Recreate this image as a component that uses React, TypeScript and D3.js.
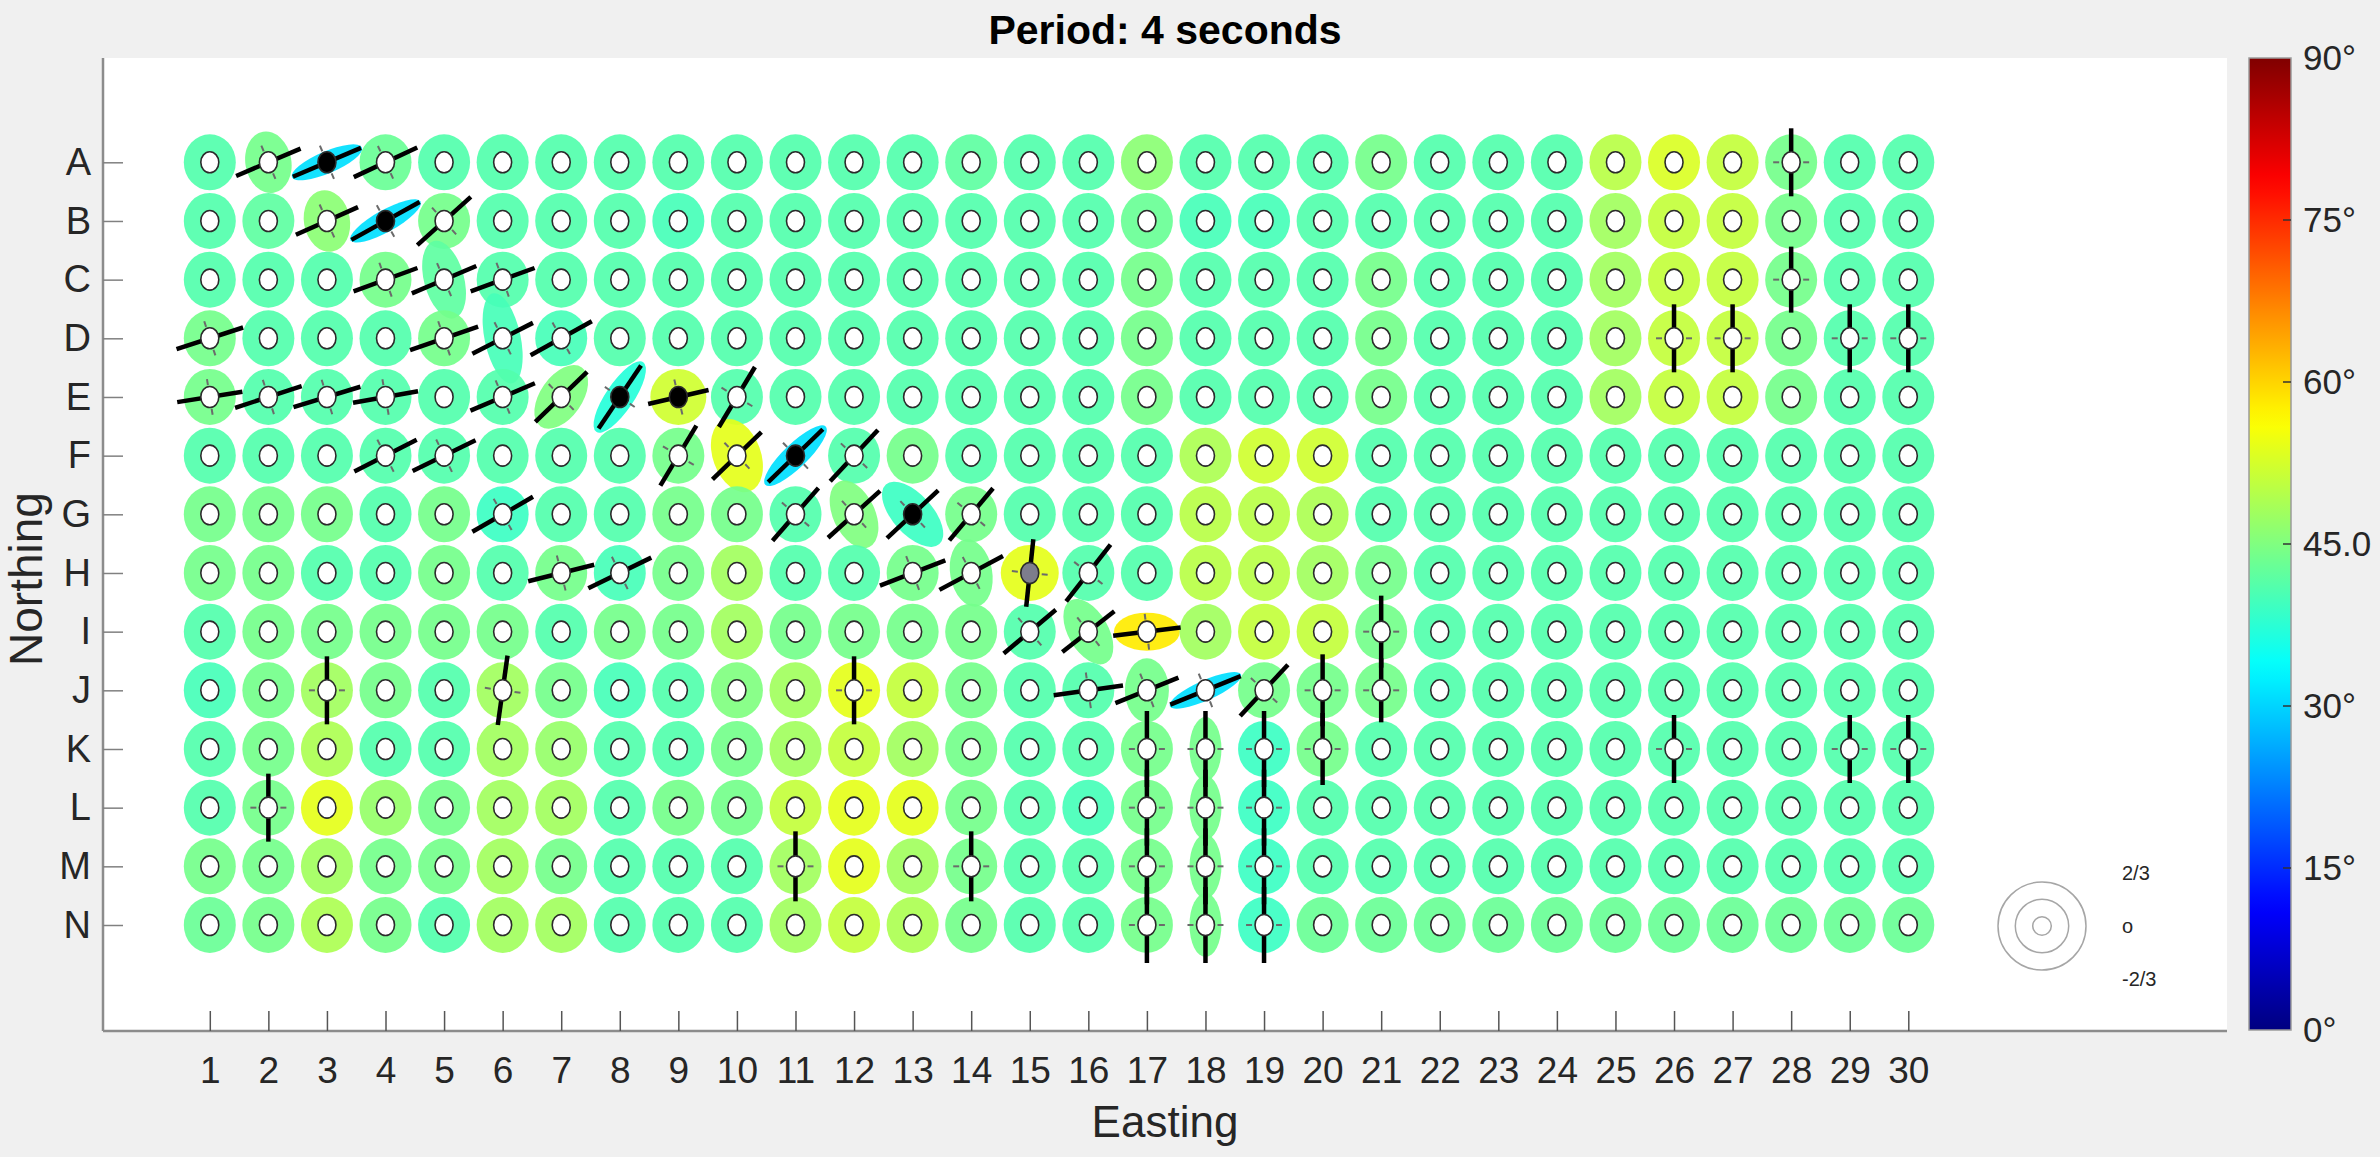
import React, { useEffect, useRef } from "react";
import * as d3 from "d3";

// grid labels
const rowNames = ["A", "B", "C", "D", "E", "F", "G", "H", "I", "J", "K", "L", "M", "N"];
const eastings = [1, 2, 3, 4, 5, 6, 7, 8, 9, 10, 11, 12, 13, 14, 15, 16, 17, 18, 19, 20, 21, 22, 23, 24, 25, 26, 27, 28, 29, 30];

// angle (deg) per station, one row per northing letter
const angleRows = [
  [41, 44, 31, 43, 41, 41, 41, 41, 41, 41, 41, 41, 41, 42, 41, 41, 46, 41, 41, 41, 44, 41, 41, 41, 50, 53, 51, 44, 41, 41],
  [41, 42, 46, 31, 44, 41, 41, 41, 40, 41, 41, 41, 41, 41, 41, 41, 43, 40, 40, 41, 41, 41, 41, 41, 48, 51, 51, 44, 41, 41],
  [41, 41, 41, 44, 42, 41, 41, 41, 41, 41, 41, 41, 41, 41, 41, 41, 44, 41, 41, 41, 44, 41, 41, 41, 48, 51, 51, 44, 41, 41],
  [44, 41, 41, 41, 44, 40, 40, 41, 41, 41, 41, 41, 41, 41, 41, 41, 44, 41, 41, 41, 44, 41, 41, 41, 48, 51, 51, 44, 41, 41],
  [44, 41, 41, 41, 41, 41, 45, 37, 52, 41, 41, 41, 41, 41, 41, 41, 44, 41, 41, 41, 44, 41, 41, 41, 48, 51, 51, 44, 41, 41],
  [41, 41, 41, 41, 41, 41, 41, 41, 44, 54, 31, 41, 44, 41, 41, 41, 41, 49, 52, 52, 41, 41, 41, 41, 41, 41, 41, 41, 41, 41],
  [44, 44, 44, 41, 44, 39, 41, 41, 44, 44, 41, 45, 39, 44, 41, 41, 41, 50, 50, 49, 41, 41, 41, 41, 41, 41, 41, 41, 41, 41],
  [44, 44, 41, 41, 44, 41, 44, 40, 44, 48, 41, 41, 44, 44, 54, 41, 41, 50, 50, 48, 44, 41, 41, 41, 41, 41, 41, 41, 41, 41],
  [41, 44, 44, 44, 44, 44, 41, 44, 44, 48, 44, 44, 44, 44, 41, 44, 58, 48, 51, 51, 44, 41, 41, 41, 41, 41, 41, 41, 41, 41],
  [40, 44, 48, 44, 41, 48, 44, 40, 41, 45, 48, 54, 51, 44, 41, 41, 44, 31, 44, 44, 44, 41, 41, 41, 41, 41, 41, 41, 41, 41],
  [41, 44, 49, 41, 41, 48, 47, 41, 41, 44, 48, 51, 48, 44, 41, 41, 44, 44, 39, 44, 41, 41, 41, 41, 41, 41, 41, 41, 41, 41],
  [41, 44, 54, 47, 44, 48, 48, 41, 44, 44, 51, 54, 54, 44, 41, 40, 44, 44, 39, 41, 41, 41, 41, 41, 41, 41, 41, 41, 41, 41],
  [44, 44, 48, 44, 44, 48, 44, 41, 41, 41, 48, 54, 48, 44, 41, 41, 44, 44, 39, 41, 41, 41, 41, 41, 41, 41, 41, 41, 41, 41],
  [43, 44, 49, 44, 41, 48, 48, 41, 41, 41, 48, 51, 49, 44, 41, 41, 44, 44, 39, 43, 43, 43, 43, 43, 43, 43, 43, 43, 43, 43],
];

// fast-axis bars: azimuth clockwise from north, half length in px of the picture
const axisLines = [
  { n: "A", e: 2, az: 67, half: 35 }, { n: "A", e: 3, az: 67, half: 37 }, { n: "A", e: 4, az: 65, half: 35 },
  { n: "A", e: 28, az: 0, half: 34 },
  { n: "B", e: 3, az: 66, half: 34 }, { n: "B", e: 4, az: 61, half: 39 }, { n: "B", e: 5, az: 48, half: 36 },
  { n: "C", e: 4, az: 70, half: 34 }, { n: "C", e: 5, az: 67, half: 35 }, { n: "C", e: 6, az: 70, half: 34 },
  { n: "C", e: 28, az: 0, half: 33 },
  { n: "D", e: 1, az: 72, half: 35 }, { n: "D", e: 5, az: 71, half: 36 }, { n: "D", e: 6, az: 63, half: 34 },
  { n: "D", e: 7, az: 61, half: 35 }, { n: "D", e: 26, az: 0, half: 34 }, { n: "D", e: 27, az: 0, half: 34 },
  { n: "D", e: 29, az: 0, half: 34 }, { n: "D", e: 30, az: 0, half: 34 },
  { n: "E", e: 1, az: 81, half: 33 }, { n: "E", e: 2, az: 72, half: 35 }, { n: "E", e: 3, az: 73, half: 35 },
  { n: "E", e: 4, az: 80, half: 33 }, { n: "E", e: 6, az: 67, half: 35 }, { n: "E", e: 7, az: 46, half: 36 },
  { n: "E", e: 8, az: 34, half: 38 }, { n: "E", e: 9, az: 77, half: 31 }, { n: "E", e: 10, az: 31, half: 35 },
  { n: "F", e: 4, az: 63, half: 35 }, { n: "F", e: 5, az: 64, half: 35 }, { n: "F", e: 9, az: 31, half: 35 },
  { n: "F", e: 10, az: 46, half: 34 }, { n: "F", e: 11, az: 46, half: 38 }, { n: "F", e: 12, az: 43, half: 35 },
  { n: "G", e: 6, az: 60, half: 35 }, { n: "G", e: 11, az: 41, half: 35 }, { n: "G", e: 12, az: 48, half: 35 },
  { n: "G", e: 13, az: 47, half: 35 }, { n: "G", e: 14, az: 40, half: 34 },
  { n: "H", e: 7, az: 76, half: 34 }, { n: "H", e: 8, az: 64, half: 35 }, { n: "H", e: 13, az: 69, half: 35 },
  { n: "H", e: 14, az: 62, half: 36 }, { n: "H", e: 15, az: 6, half: 34 }, { n: "H", e: 16, az: 38, half: 36 },
  { n: "I", e: 15, az: 50, half: 34 }, { n: "I", e: 16, az: 52, half: 33 }, { n: "I", e: 17, az: 83, half: 34 },
  { n: "I", e: 21, az: 0, half: 36 },
  { n: "J", e: 3, az: 0, half: 34 }, { n: "J", e: 6, az: 8, half: 35 }, { n: "J", e: 12, az: 0, half: 34 },
  { n: "J", e: 16, az: 82, half: 35 }, { n: "J", e: 17, az: 68, half: 34 }, { n: "J", e: 18, az: 68, half: 38 },
  { n: "J", e: 19, az: 43, half: 35 }, { n: "J", e: 20, az: 0, half: 36 }, { n: "J", e: 21, az: 0, half: 32 },
  { n: "K", e: 17, az: 0, half: 38 }, { n: "K", e: 18, az: 0, half: 38 }, { n: "K", e: 19, az: 0, half: 38 },
  { n: "K", e: 20, az: 0, half: 36 }, { n: "K", e: 26, az: 0, half: 34 }, { n: "K", e: 29, az: 0, half: 34 },
  { n: "K", e: 30, az: 0, half: 34 },
  { n: "L", e: 2, az: 0, half: 34 }, { n: "L", e: 17, az: 0, half: 38 }, { n: "L", e: 18, az: 0, half: 38 },
  { n: "L", e: 19, az: 0, half: 38 },
  { n: "M", e: 11, az: 0, half: 35 }, { n: "M", e: 14, az: 0, half: 35 }, { n: "M", e: 17, az: 0, half: 38 },
  { n: "M", e: 18, az: 0, half: 38 }, { n: "M", e: 19, az: 0, half: 38 },
  { n: "N", e: 17, az: 0, half: 38 }, { n: "N", e: 18, az: 0, half: 38 }, { n: "N", e: 19, az: 0, half: 38 },
];

// stations whose centre dot is filled
const filledCentres = [
  { n: "A", e: 3, fill: "#000" }, { n: "B", e: 4, fill: "#000" }, { n: "E", e: 8, fill: "#000" },
  { n: "E", e: 9, fill: "#000" }, { n: "F", e: 11, fill: "#000" }, { n: "G", e: 13, fill: "#000" },
  { n: "H", e: 15, fill: "#7d7d8c" },
];

// stations whose ellipse is not the default round one
const ellipseShapes = [
  { n: "A", e: 2, rx: 23, ry: 31, rot: -10 }, { n: "A", e: 3, rx: 11, ry: 38, rot: 67 },
  { n: "B", e: 3, rx: 23, ry: 31, rot: -10 }, { n: "B", e: 4, rx: 11, ry: 40, rot: 61 },
  { n: "C", e: 5, rx: 20, ry: 40, rot: -15 }, { n: "D", e: 6, rx: 18, ry: 46, rot: -12 },
  { n: "E", e: 7, rx: 21, ry: 36, rot: 35 }, { n: "E", e: 8, rx: 14, ry: 42, rot: 34 },
  { n: "E", e: 9, rx: 28, ry: 28, rot: 0 }, { n: "F", e: 10, rx: 24, ry: 38, rot: -20 },
  { n: "F", e: 11, rx: 12, ry: 42, rot: 46 }, { n: "G", e: 12, rx: 21, ry: 36, rot: -25 },
  { n: "G", e: 13, rx: 20, ry: 40, rot: -42 }, { n: "H", e: 14, rx: 21, ry: 34, rot: -10 },
  { n: "H", e: 15, rx: 29, ry: 28, rot: 0 }, { n: "I", e: 16, rx: 20, ry: 36, rot: -30 },
  { n: "I", e: 17, rx: 33, ry: 19, rot: 0 }, { n: "J", e: 17, rx: 22, ry: 32, rot: 0 },
  { n: "J", e: 18, rx: 10, ry: 39, rot: 66 },
  { n: "K", e: 18, rx: 16, ry: 32, rot: 0 }, { n: "L", e: 18, rx: 16, ry: 32, rot: 0 },
  { n: "M", e: 18, rx: 16, ry: 32, rot: 0 }, { n: "N", e: 18, rx: 16, ry: 32, rot: 0 },
];

const colorTicks = [0, 15, 30, 45, 60, 75, 90];
const colorTickLabels = ["0°", "15°", "30°", "45.0", "60°", "75°", "90°"];
const legendRings = [44, 26.7, 9.3];
const legendLabels = ["2/3", "o", "-2/3"];

const FONT = "'Liberation Sans', Arial, Helvetica, sans-serif";
const TEXT = "#262626";

function jet(t: number): string {
  const c = (v: number) => Math.max(0, Math.min(1, v));
  const r = c(Math.min(4 * t - 1.5, -4 * t + 4.5));
  const g = c(Math.min(4 * t - 0.5, -4 * t + 3.5));
  const b = c(Math.min(4 * t + 0.5, -4 * t + 2.5));
  return d3.rgb(r * 255, g * 255, b * 255).formatHex();
}

const App = () => {
  const svgRef = useRef<SVGSVGElement>(null);

  useEffect(() => {
    document.body.style.margin = "0";
    const svg = d3.select(svgRef.current);
    svg.selectAll("*").remove();

    const width = 2380, height = 1157;
    const ax = { left: 103, right: 2227, top: 58, bottom: 1031 };
    const cb = { left: 2249, right: 2291, top: 58, bottom: 1030 };

    const x = d3.scaleLinear().domain([1, 30]).range([209.8, 1908.3]);
    const y = d3.scalePoint().domain(rowNames).range([162.3, 925]);
    const colour = d3.scaleSequential(jet).domain([0, 90]);

    svg.append("rect").attr("width", width).attr("height", height).attr("fill", "#f0f0f0");
    svg.append("rect")
      .attr("x", ax.left).attr("y", ax.top)
      .attr("width", ax.right - ax.left).attr("height", ax.bottom - ax.top)
      .attr("fill", "#fff");

    const key = (n: string, e: number) => `${n}${e}`;
    const shapeMap = new Map(ellipseShapes.map(s => [key(s.n, s.e), s]));
    const fillMap = new Map(filledCentres.map(f => [key(f.n, f.e), f.fill]));

    const stations = rowNames.flatMap((n, ri) =>
      eastings.map((e, ci) => ({ n, e, value: angleRows[ri][ci] }))
    );

    // coloured ellipses
    const gEll = svg.append("g");
    stations.forEach(s => {
      const sh = shapeMap.get(key(s.n, s.e));
      gEll.append("ellipse")
        .attr("rx", sh ? sh.rx : 26)
        .attr("ry", sh ? sh.ry : 28)
        .attr("transform", `translate(${x(s.e)},${y(s.n)}) rotate(${sh ? sh.rot : 0})`)
        .attr("fill", colour(s.value))
        .attr("fill-opacity", 0.92);
    });

    // fast axis bars with small error marks
    const gLines = svg.append("g");
    axisLines.forEach(l => {
      const cx = x(l.e), cy = y(l.n)!;
      const a = (l.az * Math.PI) / 180;
      const dx = Math.sin(a), dy = -Math.cos(a);
      gLines.append("line")
        .attr("x1", cx - dx * l.half).attr("y1", cy - dy * l.half)
        .attr("x2", cx + dx * l.half).attr("y2", cy + dy * l.half)
        .attr("stroke", "#000").attr("stroke-width", 4.5);
      [-1, 1].forEach(sg => {
        const px = Math.cos(a) * sg, py = Math.sin(a) * sg;
        gLines.append("line")
          .attr("x1", cx + px * 12).attr("y1", cy + py * 12)
          .attr("x2", cx + px * 18).attr("y2", cy + py * 18)
          .attr("stroke", "#6b6b6b").attr("stroke-width", 2);
      });
    });

    // centre dots
    svg.append("g").selectAll("ellipse")
      .data(stations)
      .join("ellipse")
      .attr("cx", d => x(d.e)).attr("cy", d => y(d.n)!)
      .attr("rx", 9).attr("ry", 10.5)
      .attr("fill", d => fillMap.get(key(d.n, d.e)) || "#fff")
      .attr("stroke", "#2b2b2b").attr("stroke-width", 1.6);

    // axes lines
    svg.append("line").attr("x1", ax.left).attr("x2", ax.left).attr("y1", ax.top).attr("y2", ax.bottom)
      .attr("stroke", "#8c8c8c").attr("stroke-width", 2.5);
    svg.append("line").attr("x1", ax.left).attr("x2", ax.right).attr("y1", ax.bottom).attr("y2", ax.bottom)
      .attr("stroke", "#8c8c8c").attr("stroke-width", 2.5);

    const xAxis = svg.append("g")
      .attr("transform", `translate(0,${ax.bottom})`)
      .call(d3.axisBottom(x).tickValues(eastings).tickFormat(d3.format("d")).tickSize(-20).tickPadding(26));
    xAxis.select(".domain").remove();
    xAxis.selectAll(".tick line").attr("stroke", "#555").attr("stroke-width", 1.5);
    xAxis.selectAll("text").attr("font-family", FONT).attr("font-size", 37).attr("fill", TEXT);

    const yAxis = svg.append("g")
      .attr("transform", `translate(${ax.left},0)`)
      .call(d3.axisLeft(y).tickSize(-20).tickPadding(12));
    yAxis.select(".domain").remove();
    yAxis.selectAll(".tick line").attr("stroke", "#808080").attr("stroke-width", 1.5);
    yAxis.selectAll("text").attr("font-family", FONT).attr("font-size", 38).attr("fill", TEXT);

    // labels
    svg.append("text").attr("x", (ax.left + ax.right) / 2).attr("y", 44)
      .attr("text-anchor", "middle").attr("font-family", FONT).attr("font-weight", "bold")
      .attr("font-size", 41).attr("fill", "#000").text("Period: 4 seconds");
    svg.append("text").attr("x", (ax.left + ax.right) / 2).attr("y", 1137)
      .attr("text-anchor", "middle").attr("font-family", FONT)
      .attr("font-size", 44).attr("fill", TEXT).text("Easting");
    svg.append("text").attr("transform", `translate(42,579) rotate(-90)`)
      .attr("text-anchor", "middle").attr("font-family", FONT)
      .attr("font-size", 46).attr("fill", TEXT).text("Northing");

    // legend rings
    const lg = svg.append("g").attr("transform", "translate(2042,926)");
    lg.selectAll("circle").data(legendRings).join("circle")
      .attr("r", d => d).attr("fill", "none").attr("stroke", "#a6a6a6").attr("stroke-width", 1.5);
    lg.selectAll("text").data(legendLabels).join("text")
      .attr("x", 80).attr("y", (d, i) => (i - 1) * 53)
      .attr("dy", "0.35em").attr("font-family", FONT).attr("font-size", 20).attr("fill", TEXT)
      .text(d => d);

    // colour bar
    const defs = svg.append("defs");
    const grad = defs.append("linearGradient").attr("id", "jetbar")
      .attr("x1", 0).attr("y1", 1).attr("x2", 0).attr("y2", 0);
    d3.range(0, 1.0001, 0.02).forEach(t => {
      grad.append("stop").attr("offset", t).attr("stop-color", jet(t));
    });
    svg.append("rect").attr("x", cb.left).attr("y", cb.top)
      .attr("width", cb.right - cb.left).attr("height", cb.bottom - cb.top)
      .attr("fill", "url(#jetbar)").attr("stroke", "#9a9a9a").attr("stroke-width", 1.5);
    const cy = d3.scaleLinear().domain([0, 90]).range([cb.bottom, cb.top]);
    const cbAxis = svg.append("g").attr("transform", `translate(${cb.right},0)`)
      .call(d3.axisRight(cy).tickValues(colorTicks)
        .tickFormat((d, i) => colorTickLabels[i]).tickSize(0).tickPadding(12));
    cbAxis.select(".domain").remove();
    cbAxis.selectAll("text").attr("font-family", FONT).attr("font-size", 35).attr("fill", TEXT);
    svg.append("g").selectAll("line").data(colorTicks.slice(1, -1)).join("line")
      .attr("x1", cb.right - 8).attr("x2", cb.right)
      .attr("y1", d => cy(d)).attr("y2", d => cy(d))
      .attr("stroke", "#333").attr("stroke-width", 1.5);
  }, []);

  return (
    <svg ref={svgRef} width={2380} height={1157}
      style={{ position: "absolute", left: 0, top: 0, display: "block" }} />
  );
};

export default App;
